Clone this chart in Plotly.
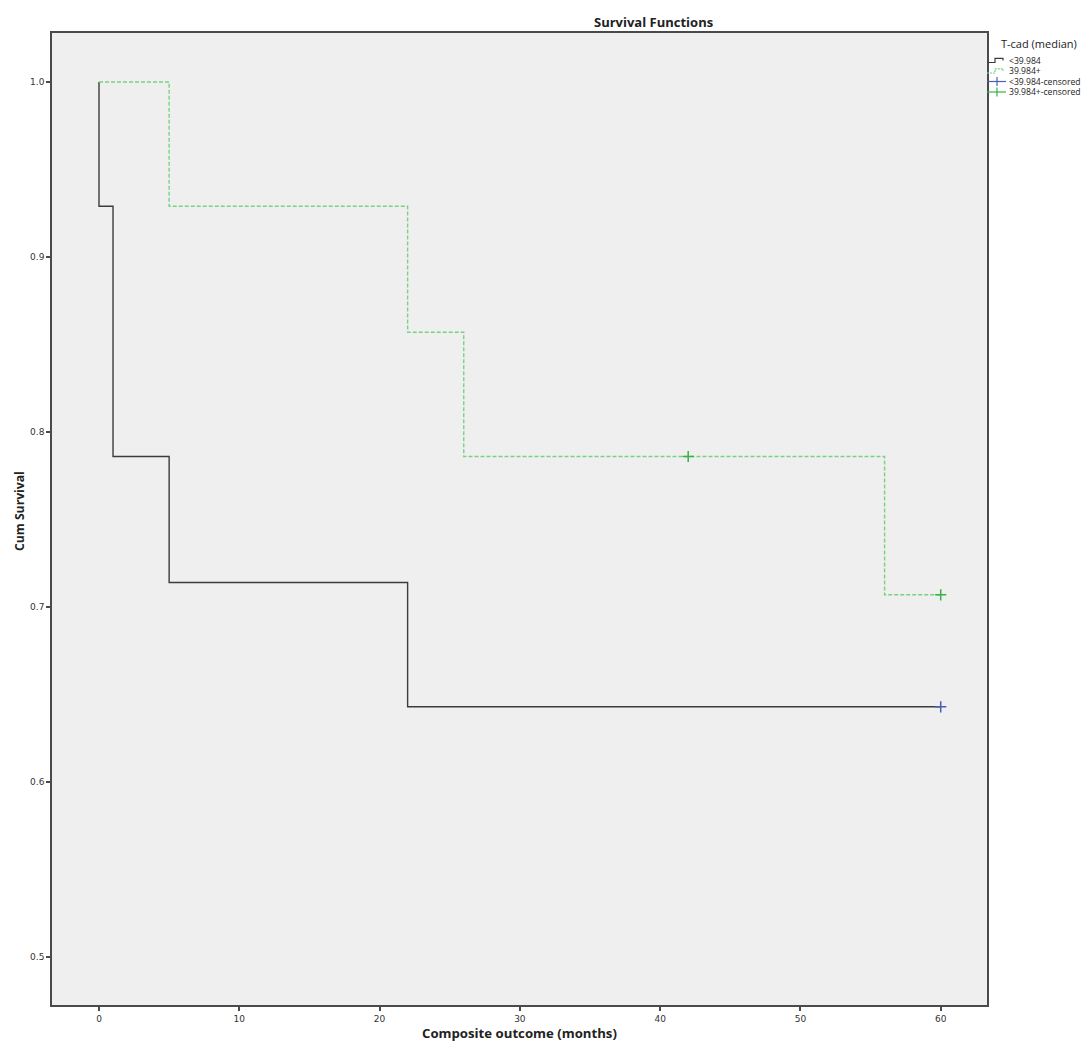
import plotly.graph_objects as go

# Group <39.984 (step curve)
low_time = [0, 0, 1, 5, 22, 60]
low_surv = [1.0, 0.929, 0.786, 0.714, 0.643, 0.643]
low_cens_time = [60]
low_cens_surv = [0.643]

# Group 39.984+ (step curve)
high_time = [0, 5, 22, 26, 56, 60]
high_surv = [1.0, 0.929, 0.857, 0.786, 0.707, 0.707]
high_cens_time = [42, 60]
high_cens_surv = [0.786, 0.707]

x_ticks = [0, 10, 20, 30, 40, 50, 60]
y_ticks = [0.5, 0.6, 0.7, 0.8, 0.9, 1.0]

legend_title = "T-cad (median)"
legend_labels = ["<39.984", "39.984+", "<39.984-censored", "39.984+-censored"]

FONT = "Open Sans, DejaVu Sans, sans-serif"
TICKFONT = "DejaVu Sans, sans-serif"
BLACK = "#3c3c3c"
GREEN_LINE = "#79d283"
GREEN_MARK = "#3cb04a"
BLUE_MARK = "#4a5fb5"

# page offset (body margin) and plot area in page pixels
OFF = 8
PL, PR, PT, PB = 52, 987, 33, 1005
FIG_W, FIG_H = 1092 - OFF, 1042 - OFF
PW, PH = PR - PL, PB - PT


def px(x):
    return (x - PL) / PW


def py(y):
    return (PB - y) / PH


fig = go.Figure()
fig.add_trace(go.Scatter(x=low_time, y=low_surv, mode="lines", line_shape="hv",
                         line=dict(color=BLACK, width=1.4), name=legend_labels[0]))
fig.add_trace(go.Scatter(x=high_time, y=high_surv, mode="lines", line_shape="hv",
                         line=dict(color=GREEN_LINE, width=1.4, dash="4px,2px"), name=legend_labels[1]))
fig.add_trace(go.Scatter(x=low_cens_time, y=low_cens_surv, mode="markers",
                         marker=dict(symbol="cross-thin", size=8, line=dict(color=BLUE_MARK, width=1.5)),
                         name=legend_labels[2]))
fig.add_trace(go.Scatter(x=high_cens_time, y=high_cens_surv, mode="markers",
                         marker=dict(symbol="cross-thin", size=8, line=dict(color=GREEN_MARK, width=1.5)),
                         name=legend_labels[3]))

axis_common = dict(showgrid=False, zeroline=False, showline=True, mirror=True,
                   linecolor="#4a4a4a", linewidth=1.5, ticks="outside", ticklen=4,
                   tickcolor="#4a4a4a", tickwidth=1.5,
                   tickfont=dict(family=TICKFONT, size=9, color="#333333"))

shapes = []
annotations = [
    dict(text="<b>Survival Functions</b>", xref="paper", yref="paper",
         x=px(653), y=py(22), xanchor="center", yanchor="middle", showarrow=False,
         font=dict(family=FONT, size=13, color="#222222")),
    dict(text="<b>Composite outcome (months)</b>", xref="paper", yref="paper",
         x=px(519), y=py(1033), xanchor="center", yanchor="middle", showarrow=False,
         font=dict(family=FONT, size=13.2, color="#222222")),
    dict(text="<b>Cum Survival</b>", xref="paper", yref="paper",
         x=px(19), y=py(511), xanchor="center", yanchor="middle", showarrow=False,
         textangle=-90, font=dict(family=FONT, size=12.2, color="#222222")),
    dict(text=legend_title, xref="paper", yref="paper",
         x=px(999), y=py(44), xanchor="left", yanchor="middle", showarrow=False,
         font=dict(family=FONT, size=11, color="#222222")),
]

entry_y = [60.5, 71, 81.5, 92]
for i, (lab, yy) in enumerate(zip(legend_labels, entry_y)):
    annotations.append(dict(text=lab, xref="paper", yref="paper", x=px(1007), y=py(yy),
                            xanchor="left", yanchor="middle", showarrow=False,
                            font=dict(family=FONT, size=8.6, color="#222222")))
    if i < 2:
        col = BLACK if i == 0 else GREEN_LINE
        dash = "solid" if i == 0 else "2px,1px"
        path = "M {} {} L {} {} L {} {} L {} {} L {} {}".format(
            px(987), py(yy + 2), px(995), py(yy + 2), px(995), py(yy - 2.2),
            px(1003), py(yy - 2.2), px(1003), py(yy))
        shapes.append(dict(type="path", xref="paper", yref="paper", path=path,
                           line=dict(color=col, width=1.2, dash=dash)))
    else:
        col = BLUE_MARK if i == 2 else GREEN_MARK
        shapes.append(dict(type="line", xref="paper", yref="paper",
                           x0=px(987), x1=px(1006), y0=py(yy), y1=py(yy),
                           line=dict(color=col, width=1.2)))
        shapes.append(dict(type="line", xref="paper", yref="paper",
                           x0=px(997), x1=px(997), y0=py(yy - 4.5), y1=py(yy + 4.5),
                           line=dict(color=col, width=1.2)))

fig.update_layout(
    width=FIG_W, height=FIG_H,
    margin=dict(l=PL - OFF, r=FIG_W - (PR - OFF), t=PT - OFF, b=FIG_H - (PB - OFF), autoexpand=False),
    plot_bgcolor="#efefef", paper_bgcolor="white",
    font=dict(family=FONT, color="#222222"),
    xaxis=dict(range=[-3.35, 63.3], tickvals=x_ticks, **axis_common),
    yaxis=dict(range=[0.4726, 1.028], tickvals=y_ticks, tickformat=".1f", **axis_common),
    showlegend=False,
    shapes=shapes,
    annotations=annotations,
)

fig.write_html("out.html")
